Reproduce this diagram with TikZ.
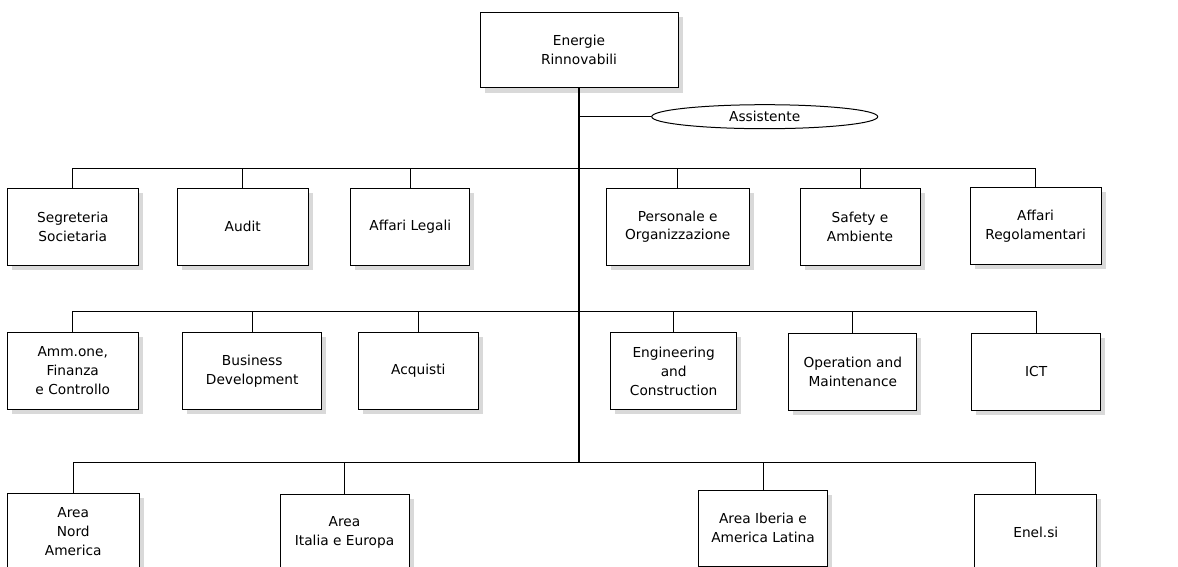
\documentclass[tikz,border=0pt]{standalone}
\usepackage{fontspec}
\setmainfont{DejaVu Sans}
\usetikzlibrary{shapes.geometric,shadows}

\tikzset{%
  unit/.style={draw=black, line width=0.75pt, fill=white, align=center,
    inner sep=0pt, font=\fontsize{10.3}{14.2}\selectfont,
    drop shadow={shadow xshift=3.5pt, shadow yshift=-3.5pt, fill=black!15, opacity=1}},
  link/.style={color=black, line width=0.75pt},
  trunk/.style={color=black, line width=1.6pt},
}

\begin{document}
\begin{tikzpicture}[%
      x=0.75pt, y=-0.75pt,
      ]
      \useasboundingbox (0,0) rectangle (1178,567);
      \clip (0,0) rectangle (1178,567);

      % head and assistant
      \node[unit, minimum width=148.5pt, minimum height=56.5pt] (head) at (579,50.3) {Energie\\Rinnovabili};
      \node[draw=black, line width=0.75pt, ellipse, fill=white, inner sep=0pt,
            font=\fontsize{10.3}{14.2}\selectfont,
            minimum width=169.5pt, minimum height=18pt] (asst) at (764.7,116.7) {Assistente};

      % first row
      \node[unit, minimum width=98.25pt, minimum height=57.75pt] (segr) at (72.8,226.7) {Segreteria\\Societaria};
      \node[unit, minimum width=98.25pt, minimum height=57.75pt] (audit) at (242.7,226.7) {Audit};
      \node[unit, minimum width=89.25pt, minimum height=57.75pt] (legali) at (410.3,226.7) {Affari Legali};
      \node[unit, minimum width=107.25pt, minimum height=57.75pt] (pers) at (677.7,226.7) {Personale e\\Organizzazione};
      \node[unit, minimum width=90pt, minimum height=57.75pt] (safety) at (860,226.7) {Safety e\\Ambiente};
      \node[unit, minimum width=98.25pt, minimum height=57.75pt] (regol) at (1035.6,226.2) {Affari\\Regolamentari};

      % second row
      \node[unit, minimum width=98.25pt, minimum height=57.75pt] (amm) at (72.8,371) {Amm.one,\\Finanza\\e Controllo};
      \node[unit, minimum width=104.25pt, minimum height=57.75pt] (busdev) at (252.2,371) {Business\\Development};
      \node[unit, minimum width=90pt, minimum height=57.75pt] (acq) at (418.3,371) {Acquisti};
      \node[unit, minimum width=94.5pt, minimum height=57.75pt] (eng) at (673.7,371) {Engineering\\and\\Construction};
      \node[unit, minimum width=96pt, minimum height=57.75pt] (oper) at (852.8,371.5) {Operation and\\Maintenance};
      \node[unit, minimum width=96.75pt, minimum height=57.75pt] (ict) at (1036.2,371.5) {ICT};

      % third row
      \node[unit, minimum width=99pt, minimum height=57.75pt] (nord) at (73.3,531.8) {Area\\Nord\\America};
      \node[unit, minimum width=96.75pt, minimum height=57.75pt] (italia) at (344.5,532.8) {Area\\Italia e Europa};
      \node[unit, minimum width=97pt, minimum height=57pt] (iberia) at (763,528.3) {Area Iberia e\\America Latina};
      \node[unit, minimum width=91.5pt, minimum height=57.75pt] (enel) at (1035.8,532.8) {Enel.si};

      % bus points on the trunk
      \coordinate (asstbus) at (579,116.7);
      \coordinate (bus1) at (579,168);
      \coordinate (bus2) at (579,311);
      \coordinate (bus3) at (579,462);

      \draw[link] (asstbus) -- (asst.west);

      \draw[link] (bus1) -| (segr.north);
      \draw[link] (bus1) -| (audit.north);
      \draw[link] (bus1) -| (legali.north);
      \draw[link] (bus1) -| (pers.north);
      \draw[link] (bus1) -| (safety.north);
      \draw[link] (bus1) -| (regol.north);

      \draw[link] (bus2) -| (amm.north);
      \draw[link] (bus2) -| (busdev.north);
      \draw[link] (bus2) -| (acq.north);
      \draw[link] (bus2) -| (eng.north);
      \draw[link] (bus2) -| (oper.north);
      \draw[link] (bus2) -| (ict.north);

      \draw[link] (bus3) -| (nord.north);
      \draw[link] (bus3) -| (italia.north);
      \draw[link] (bus3) -| (iberia.north);
      \draw[link] (bus3) -| (enel.north);

      \draw[trunk] (head.south) -- (bus3);
\end{tikzpicture}
\end{document}
